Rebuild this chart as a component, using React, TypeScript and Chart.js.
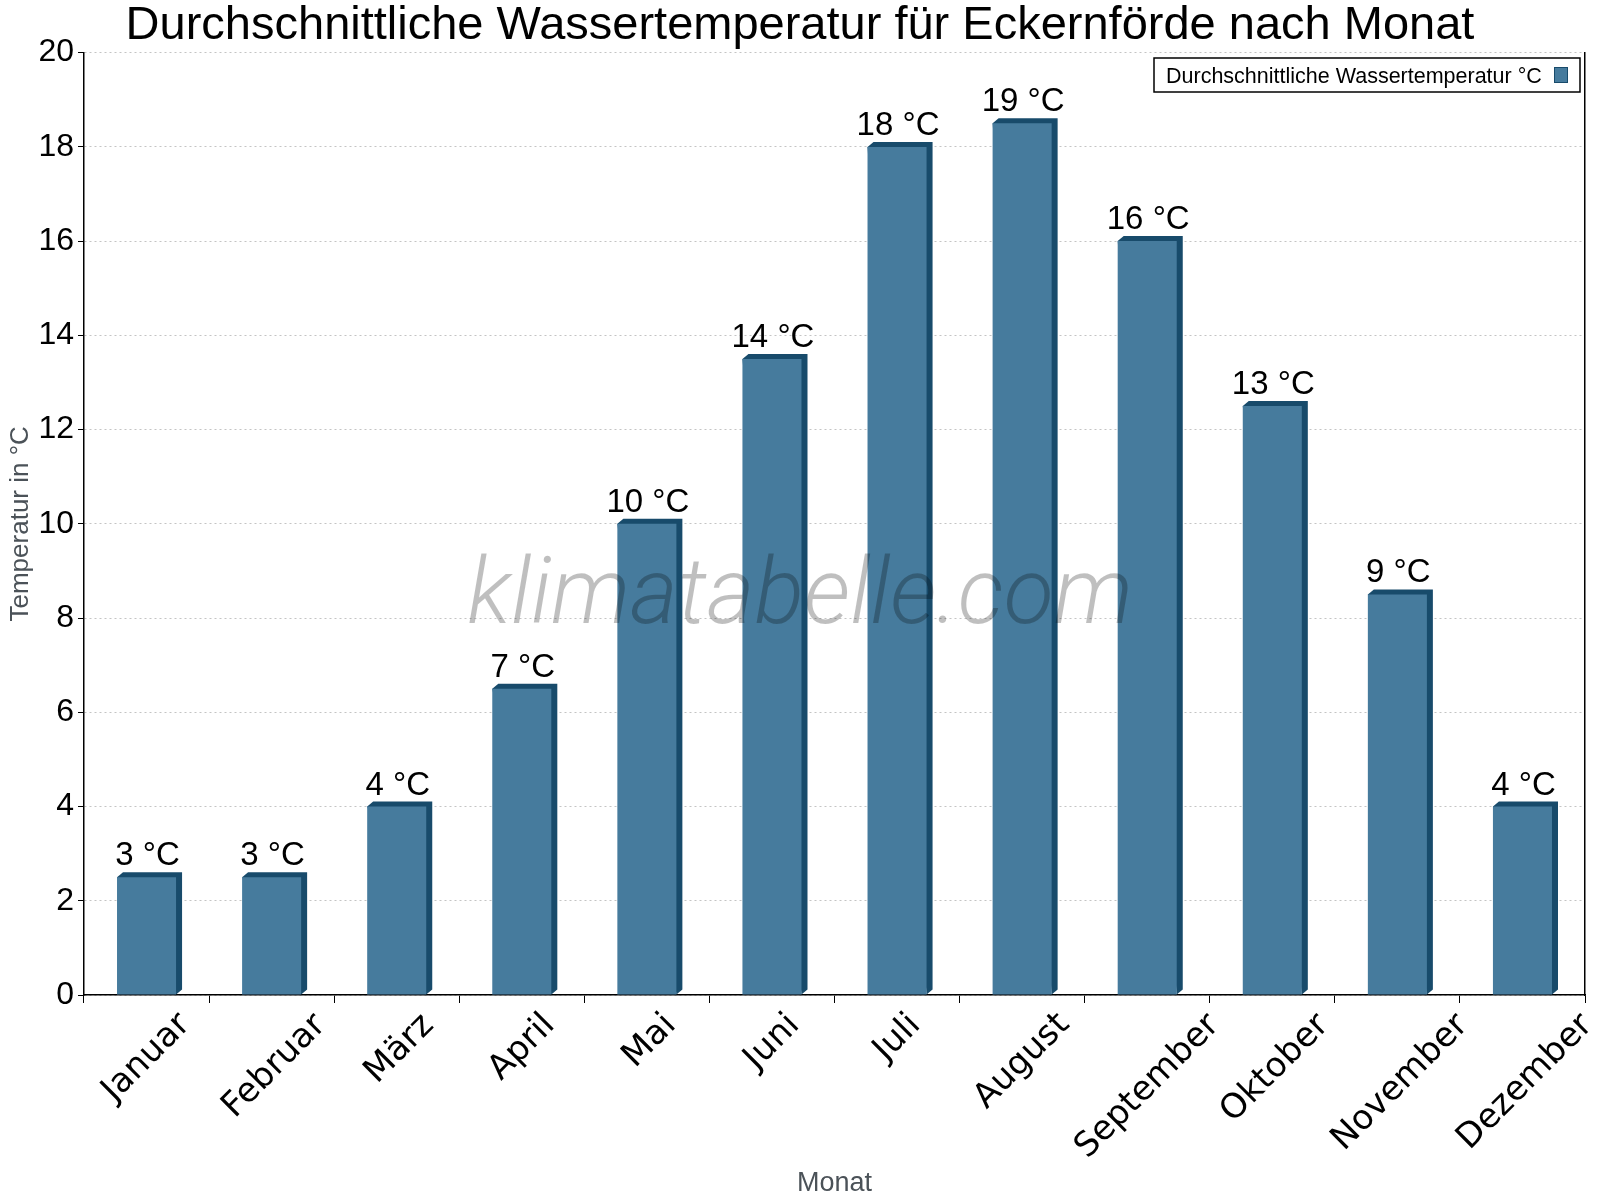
import { useEffect, useRef } from 'react'
import { Chart, registerables, type ChartConfiguration, type Plugin } from 'chart.js'

Chart.register(...registerables)

const months = ['Januar', 'Februar', 'März', 'April', 'Mai', 'Juni', 'Juli', 'August', 'September', 'Oktober', 'November', 'Dezember']
const waterTemp = [2.5, 2.5, 4, 6.5, 10, 13.5, 18, 18.5, 16, 12.5, 8.5, 4]
const valueLabels = ['3 °C', '3 °C', '4 °C', '7 °C', '10 °C', '14 °C', '18 °C', '19 °C', '16 °C', '13 °C', '9 °C', '4 °C']
const seriesName = 'Durchschnittliche Wassertemperatur °C'

const FRONT = '#467b9d'
const DARK = '#184b6b'
const SANS = '"Liberation Sans", Arial, sans-serif'

// dark top + side face behind each bar
const depth: Plugin<'bar'> = {
  id: 'depth',
  beforeDatasetsDraw(chart) {
    const { ctx } = chart
    const dx = 6, dy = 5
    ctx.save()
    ctx.fillStyle = DARK
    chart.getDatasetMeta(0).data.forEach((el: any) => {
      const l = el.x - el.width / 2, r = el.x + el.width / 2
      const t = el.y, b = el.base
      ctx.beginPath()
      ctx.moveTo(l, t)
      ctx.lineTo(l + dx, t - dy)
      ctx.lineTo(r + dx, t - dy)
      ctx.lineTo(r + dx, b - dy)
      ctx.lineTo(r, b)
      ctx.closePath()
      ctx.fill()
    })
    ctx.restore()
  },
}

const decorations: Plugin<'bar'> = {
  id: 'decorations',
  afterDraw(chart) {
    const { ctx, chartArea } = chart
    ctx.save()

    // value labels
    ctx.fillStyle = '#000'
    ctx.font = `33px ${SANS}`
    ctx.textAlign = 'center'
    ctx.textBaseline = 'alphabetic'
    chart.getDatasetMeta(0).data.forEach((el: any, i) => {
      ctx.fillText(valueLabels[i], el.x + 1, el.y - 12)
    })

    // month labels, rotated around their centre
    const xs = chart.scales.x
    ctx.font = '34px "DejaVu Sans"'
    months.forEach((m, i) => {
      const px = xs.getPixelForValue(i)
      const mt = ctx.measureText(m)
      const asc = mt.actualBoundingBoxAscent, desc = mt.actualBoundingBoxDescent
      const side = (mt.width + asc + desc) * Math.SQRT1_2
      const cy = chartArea.bottom + 13 + side / 2
      ctx.save()
      ctx.translate(px, cy)
      ctx.rotate(-Math.PI / 4)
      ctx.textAlign = 'center'
      ctx.textBaseline = 'alphabetic'
      ctx.fillText(m, 0, (asc - desc) / 2)
      ctx.restore()
    })

    // watermark
    ctx.font = `italic 300 92px Roboto`
    ctx.fillStyle = 'rgba(0,0,0,0.25)'
    ctx.textAlign = 'center'
    ctx.fillText('klimatabelle.com', 800, 623)

    // legend box
    const bx = 1154, by = 58, bw = 426, bh = 34
    ctx.fillStyle = '#fff'
    ctx.fillRect(bx, by, bw, bh)
    ctx.strokeStyle = '#000'
    ctx.lineWidth = 1.5
    ctx.strokeRect(bx, by, bw, bh)
    ctx.fillStyle = '#000'
    ctx.font = `21.5px ${SANS}`
    ctx.textAlign = 'left'
    ctx.fillText(seriesName, 1166, 83)
    ctx.fillStyle = FRONT
    ctx.fillRect(1554.5, 67.5, 13, 15)
    ctx.strokeStyle = DARK
    ctx.lineWidth = 1
    ctx.strokeRect(1554.5, 67.5, 13, 15)

    ctx.restore()
  },
}

export default function App() {
  const ref = useRef<HTMLCanvasElement>(null)

  useEffect(() => {
    document.body.style.margin = '0'
    if (!ref.current) return

    const config: ChartConfiguration<'bar'> = {
      type: 'bar',
      data: {
        labels: months,
        datasets: [{
          label: seriesName,
          data: waterTemp,
          backgroundColor: FRONT,
          borderWidth: 0,
          barPercentage: 0.472,
          categoryPercentage: 1,
        }],
      },
      options: {
        responsive: false,
        devicePixelRatio: 1,
        animation: false,
        layout: { padding: 0 },
        plugins: {
          legend: { display: false },
          tooltip: { enabled: false },
          title: {
            display: true,
            text: 'Durchschnittliche Wassertemperatur für Eckernförde nach Monat',
            color: '#000',
            font: { family: SANS, size: 47, weight: 'normal', lineHeight: 1.12 },
            padding: { top: 0, bottom: 0 },
          },
        },
        scales: {
          x: {
            offset: true,
            grid: { offset: true, drawOnChartArea: false, tickLength: 8, tickColor: '#000' },
            border: { color: '#000', width: 1.5 },
            ticks: { display: false },
            title: {
              display: true,
              text: 'Monat',
              color: '#4b5258',
              font: { family: SANS, size: 27, lineHeight: 1.2 },
              padding: { top: 0, bottom: 0 },
            },
            afterFit: s => { s.height = 205 },
          },
          y: {
            min: 0,
            max: 20,
            ticks: {
              stepSize: 2,
              color: '#000',
              padding: 4,
              font: { family: SANS, size: 32 },
            },
            grid: { color: '#c4c4c4', tickColor: '#000', tickLength: 6, tickBorderDash: [] },
            border: { color: '#000', width: 1.5, dash: [2, 3] },
            title: {
              display: true,
              text: 'Temperatur in °C',
              color: '#4b5258',
              font: { family: SANS, size: 26, lineHeight: 1.2 },
              padding: { top: 5, bottom: 0 },
            },
            afterFit: s => { s.width = 84 },
          },
          y2: {
            position: 'right',
            min: 0,
            max: 20,
            ticks: { display: false },
            grid: { drawOnChartArea: false, drawTicks: false },
            border: { color: '#000', width: 1.5 },
            afterFit: s => { s.width = 15 },
          },
        },
      },
      plugins: [depth, decorations],
    }

    const chart = new Chart(ref.current, config)
    return () => chart.destroy()
  }, [])

  return <canvas ref={ref} width={1600} height={1200} style={{ display: 'block' }} />
}
